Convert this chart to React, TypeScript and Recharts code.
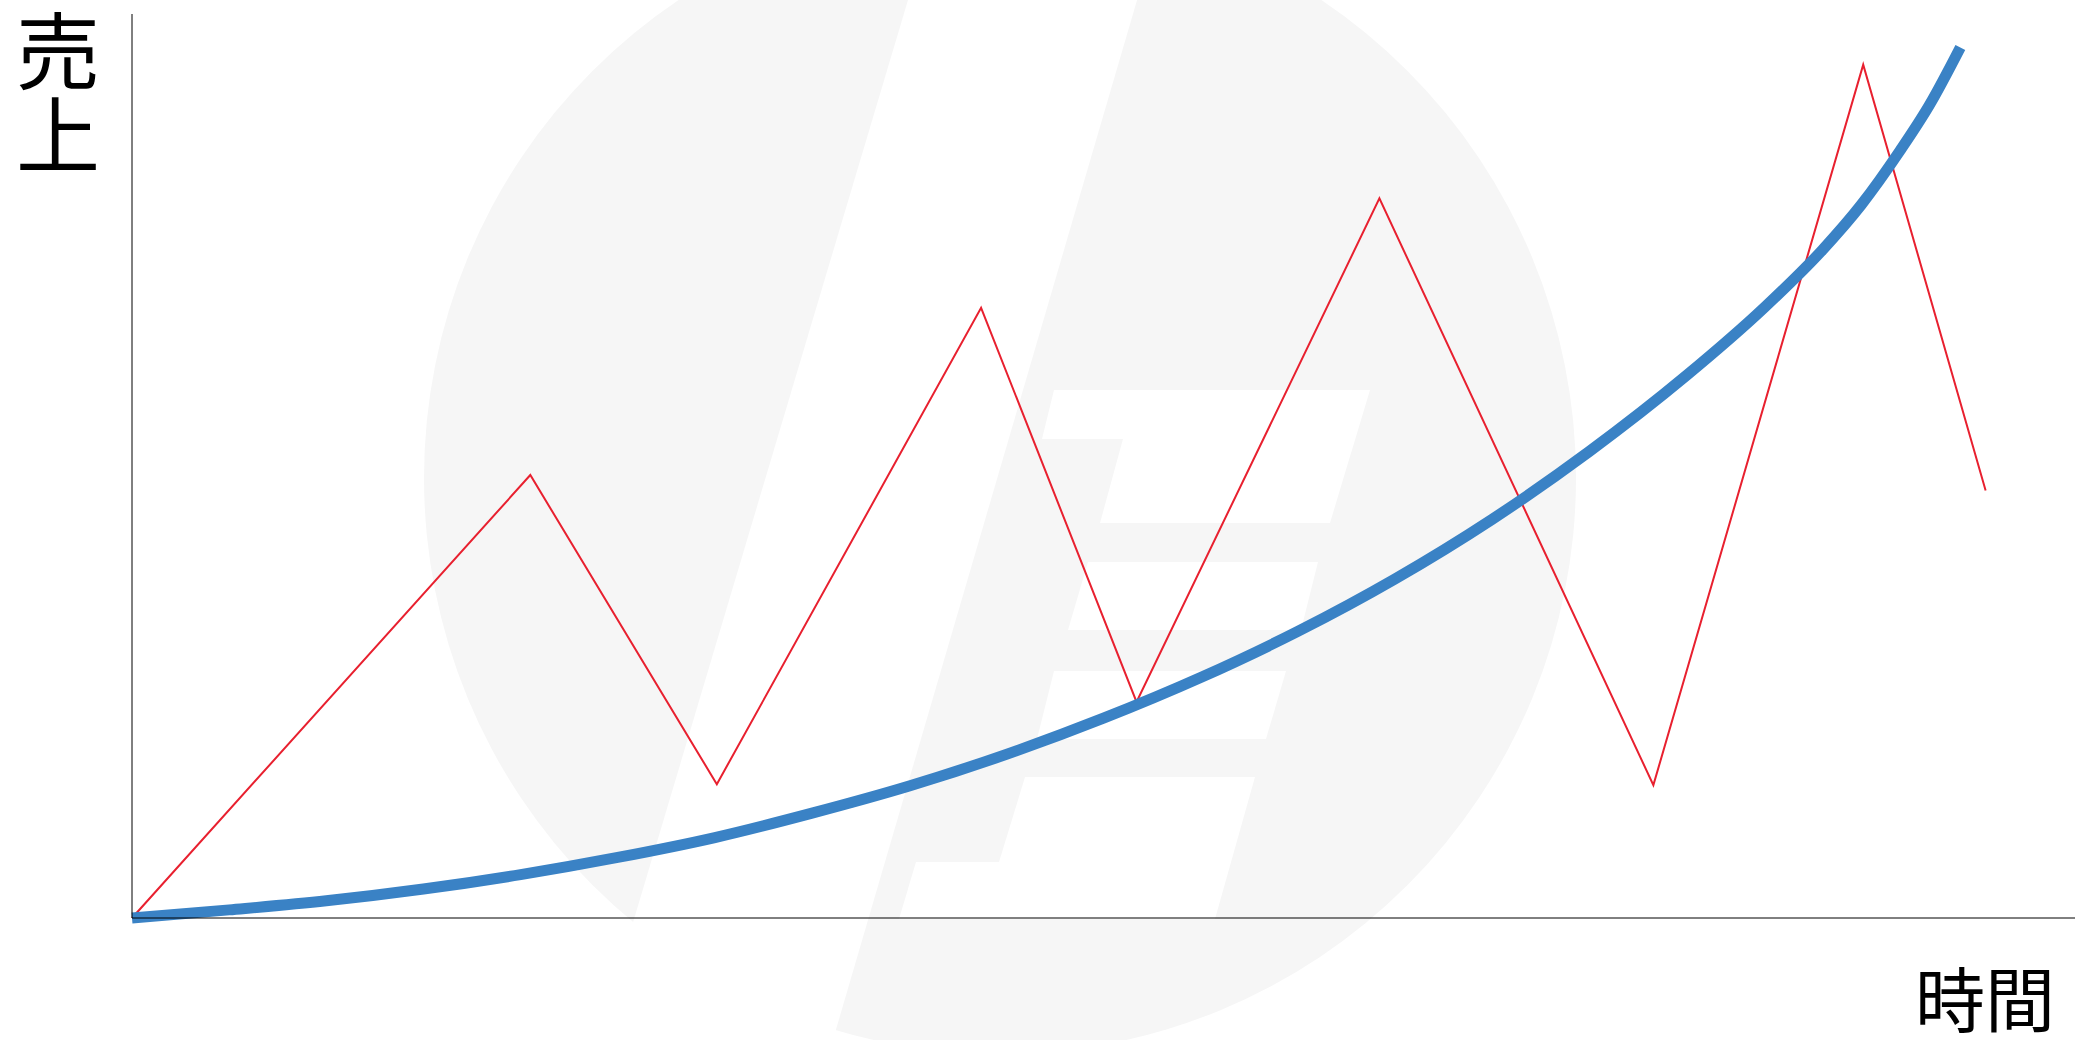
import { LineChart, Line, XAxis, YAxis } from 'recharts';

// 売上 (zigzag)
const salesX = [0, 20.5, 30.1, 43.7, 51.7, 64.2, 78.3, 89.1, 95.4];
const salesY = [0, 49.0, 14.8, 67.5, 23.9, 79.6, 14.7, 94.4, 47.3];

// growth curve
const trendX = [0, 5, 10, 15, 20, 25, 30, 35, 40, 45, 50, 55, 60, 65, 70, 75, 80, 84, 87, 89, 91, 92.5, 94.1];
const trendY = [0, 0.9, 1.9, 3.2, 4.8, 6.7, 8.9, 11.6, 14.6, 18.1, 22.1, 26.6, 31.7, 37.5, 44.1, 51.6, 60.0, 67.5, 73.9, 78.9, 84.9, 89.9, 96.3];

const yLabel = ['売', '上'];
const xLabel = '時間';

const salesData = salesX.map((x, i) => ({ x, y: salesY[i] }));
const trendData = trendX.map((x, i) => ({ x, y: trendY[i] }));

const W = 2080;
const H = 1040;
const GREY = '#f6f6f6';
const FONT = '"Noto Sans CJK JP", "Noto Sans", sans-serif';

function Watermark() {
  return (
    <svg width={W} height={H} style={{ position: 'absolute', left: 0, top: 0 }}>
      <circle cx={1000} cy={478} r={576} fill={GREY} />
      <polygon points="911,-10 1140,-10 830,1050 595,1050" fill="#fff" />
      <polygon points="1054,390 1370,390 1330,523 1100,523 1123,439 1042,439" fill="#fff" />
      <polygon points="1088,562 1318,562 1301,630 1068,630" fill="#fff" />
      <polygon points="1054,671 1286,671 1266,739 1037,739" fill="#fff" />
      <polygon points="1025,777 1255,777 1215,919 899,919 916,862 999,862" fill="#fff" />
    </svg>
  );
}

export default function App() {
  return (
    <div style={{ position: 'absolute', left: 0, top: 0, width: W, height: H, background: '#fff', overflow: 'hidden' }}>
      <Watermark />
      <div style={{ position: 'absolute', left: 0, top: 0 }}>
        <LineChart width={W} height={H} margin={{ top: 14, right: 5, bottom: 121, left: 131 }}>
          <XAxis
            type="number"
            dataKey="x"
            domain={[0, 100]}
            height={1}
            tick={false}
            tickLine={false}
            axisLine={{ stroke: '#000', strokeWidth: 1 }}
          />
          <YAxis
            type="number"
            dataKey="y"
            domain={[0, 100]}
            width={1}
            tick={false}
            tickLine={false}
            axisLine={{ stroke: '#000', strokeWidth: 1 }}
          />
          <Line
            data={salesData}
            dataKey="y"
            type="linear"
            stroke="#e8202f"
            strokeWidth={2}
            dot={false}
            isAnimationActive={false}
          />
          <Line
            data={trendData}
            dataKey="y"
            type="monotone"
            stroke="#3a82c5"
            strokeWidth={11}
            dot={false}
            isAnimationActive={false}
          />
        </LineChart>
      </div>
      <div
        style={{
          position: 'absolute',
          left: 16,
          top: 5,
          fontFamily: FONT,
          fontSize: 84,
          lineHeight: '84px',
          color: '#000',
        }}
      >
        {yLabel[0]}
        <br />
        {yLabel[1]}
      </div>
      <div
        style={{
          position: 'absolute',
          left: 1915,
          top: 962,
          fontFamily: FONT,
          fontSize: 70,
          lineHeight: 1,
          color: '#000',
        }}
      >
        {xLabel}
      </div>
    </div>
  );
}
